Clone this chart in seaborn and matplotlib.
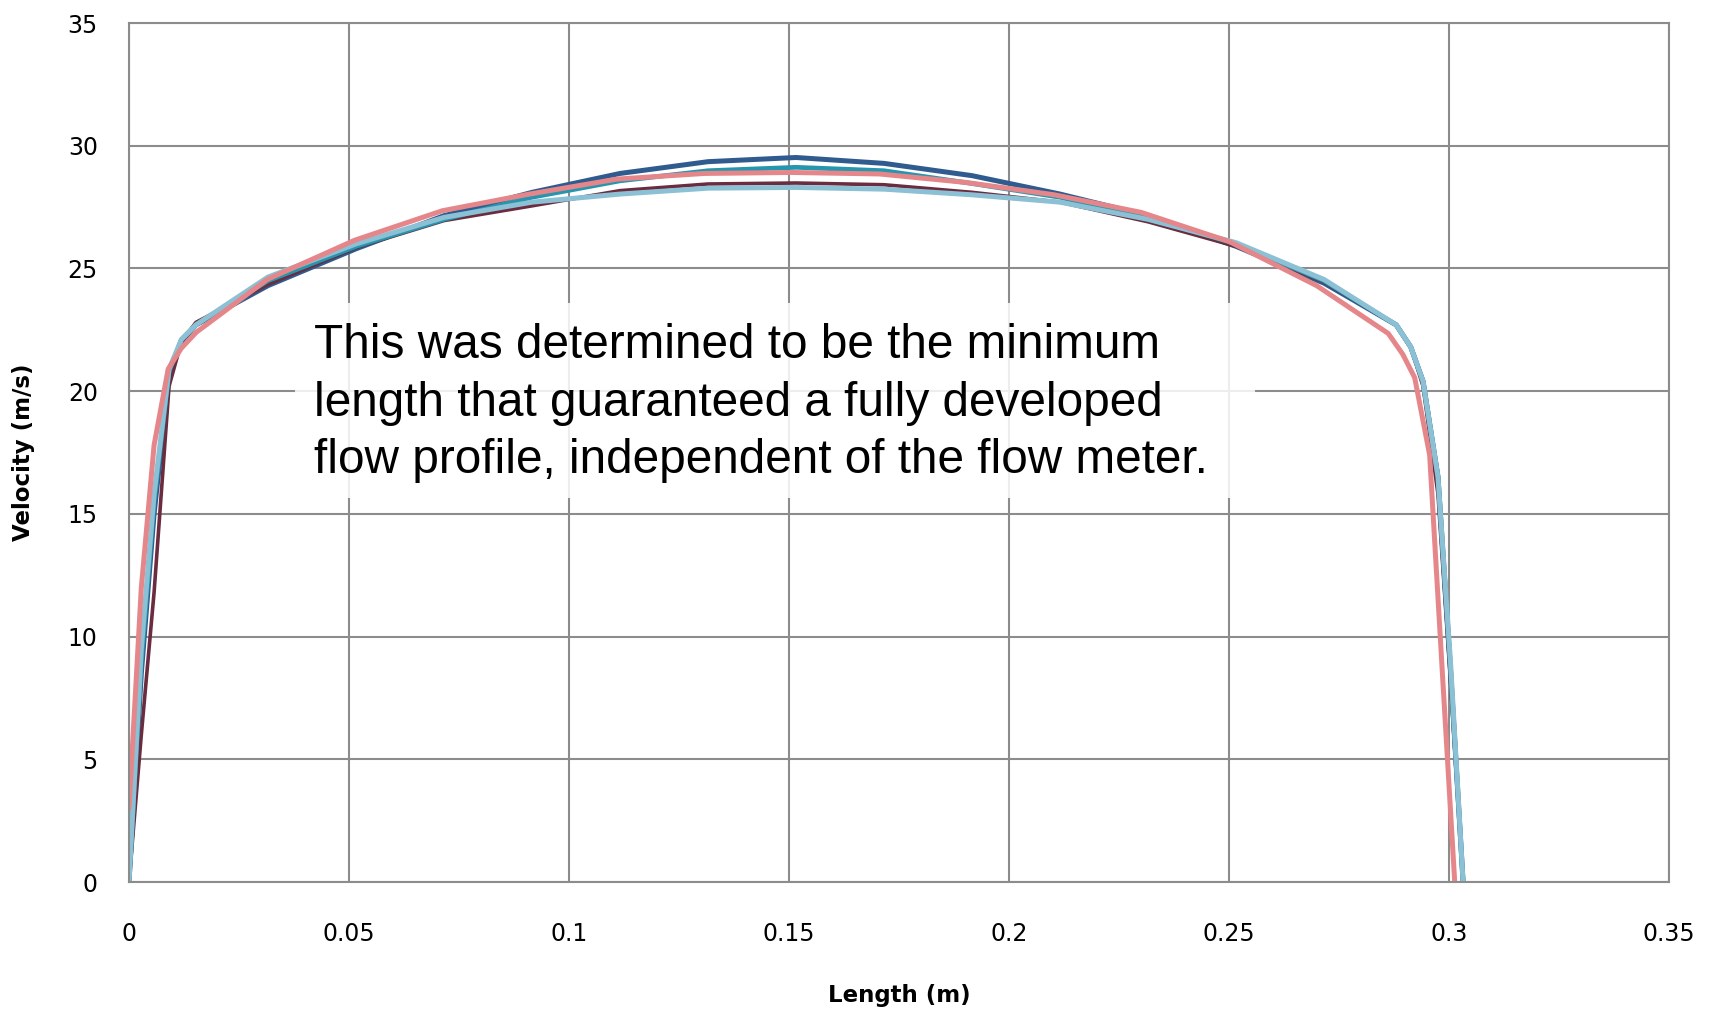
import pandas as pd
import seaborn as sns
import matplotlib.pyplot as plt
from matplotlib.patches import Rectangle

# Radial positions (m) of the profile points
x_grid = [0, 0.0028, 0.0057, 0.0091, 0.0119, 0.0152, 0.0316, 0.0516, 0.0716, 0.0916,
          0.1116, 0.1316, 0.1516, 0.1716, 0.1916, 0.2116, 0.2316, 0.2516, 0.2716,
          0.288, 0.2913, 0.2941, 0.2975, 0.3004, 0.3032]
# the pink profile ends a little earlier
x_pink = [0, 0.0028, 0.0057, 0.0089, 0.0119, 0.0153, 0.0314, 0.0513, 0.0712, 0.0910,
          0.1109, 0.1308, 0.1506, 0.1705, 0.1904, 0.2103, 0.2301, 0.2500, 0.2699,
          0.2862, 0.2895, 0.2922, 0.2956, 0.2985, 0.3013]

# Velocity (m/s)
v_blue = [0, 8.5, 15.0, 20.6, 22.0, 22.7, 24.3, 25.8, 27.15, 28.1,
          28.87, 29.35, 29.52, 29.28, 28.78, 28.03, 27.15, 25.9, 24.4,
          22.7, 21.8, 20.4, 16.5, 8.5, 0]
v_maroon = [0, 6.0, 11.8, 20.2, 22.0, 22.8, 24.35, 25.85, 26.95, 27.55,
            28.17, 28.44, 28.48, 28.41, 28.1, 27.7, 26.9, 25.9, 24.45,
            22.7, 21.8, 20.2, 15.8, 8.0, 0]
v_teal = [0, 9.0, 15.5, 20.8, 22.1, 22.7, 24.5, 25.9, 27.0, 27.9,
          28.57, 28.98, 29.12, 28.98, 28.46, 27.9, 27.05, 26.0, 24.5,
          22.7, 21.8, 20.4, 16.5, 8.5, 0]
v_light = [0, 9.5, 15.8, 20.9, 22.1, 22.7, 24.65, 26.0, 27.08, 27.7,
           28.03, 28.27, 28.3, 28.23, 28.0, 27.7, 27.0, 26.05, 24.55,
           22.7, 21.8, 20.4, 16.5, 8.8, 0]
v_pink = [3.0, 12.0, 17.8, 20.9, 21.75, 22.4, 24.55, 26.15, 27.35, 28.03,
          28.64, 28.87, 28.91, 28.85, 28.5, 28.0, 27.28, 26.1, 24.3,
          22.35, 21.5, 20.55, 17.4, 8.5, 0]

series = ["blue", "maroon", "teal", "light", "pink"]
colors = {"blue": "#2f5b8f", "maroon": "#6a2c3e", "teal": "#2596ae",
          "light": "#8cc0d4", "pink": "#e5878a"}
widths = {"blue": 3.6, "maroon": 2.6, "teal": 3.4, "light": 3.6, "pink": 3.6}

frames = []
for name, xs, vs in [("blue", x_grid, v_blue), ("maroon", x_grid, v_maroon),
                     ("teal", x_grid, v_teal), ("light", x_grid, v_light),
                     ("pink", x_pink, v_pink)]:
    frames.append(pd.DataFrame({"x": xs, "v": vs, "run": name}))
df = pd.concat(frames, ignore_index=True)

sns.set_style("white")
grid_col = "#8c8c8c"

fig = plt.figure(figsize=(17.17, 10.11), dpi=100)
ax = fig.add_axes([129 / 1717, 1 - 882 / 1011, 1540 / 1717, 859 / 1011])

for name in series:
    sns.lineplot(data=df[df["run"] == name], x="x", y="v", sort=False, estimator=None,
                 color=colors[name], linewidth=widths[name], ax=ax, legend=False)

ax.set_xlim(0, 0.35)
ax.set_ylim(0, 35)
ax.set_xticks([0, 0.05, 0.1, 0.15, 0.2, 0.25, 0.3, 0.35])
ax.set_xticklabels(["0", "0.05", "0.1", "0.15", "0.2", "0.25", "0.3", "0.35"])
ax.set_yticks(range(0, 36, 5))
ax.grid(True, color=grid_col, linewidth=1.5)
ax.set_axisbelow(True)
for sp in ax.spines.values():
    sp.set_color(grid_col)
    sp.set_linewidth(1.5)
ax.tick_params(axis="both", direction="out", length=6.5, width=1.5, color=grid_col,
               labelsize=17, labelcolor="black")
ax.tick_params(axis="x", pad=22)
ax.tick_params(axis="y", pad=16)

ax.set_xlabel("Length (m)", fontsize=16.5, fontweight="bold", va="center", color="black")
ax.set_ylabel("Velocity (m/s)", fontsize=16.5, fontweight="bold", va="center", color="black")
ax.xaxis.set_label_coords(0.5, -0.1316)
ax.yaxis.set_label_coords(-0.0682, 0.5)

# note box over the plot
box = Rectangle((295 / 1717, 1 - 498 / 1011), 960 / 1717, 195 / 1011,
                transform=fig.transFigure, facecolor="white", alpha=0.85,
                edgecolor="none", zorder=5)
fig.patches.append(box)
fig.text(314 / 1717, 1 - 403 / 1011,
         "This was determined to be the minimum\n"
         "length that guaranteed a fully developed\n"
         "flow profile, independent of the flow meter.",
         family=["Liberation Sans", "DejaVu Sans"], fontsize=34.4, color="black",
         ha="left", va="center", linespacing=1.37, zorder=6)

fig.savefig("out.png", dpi=100)
